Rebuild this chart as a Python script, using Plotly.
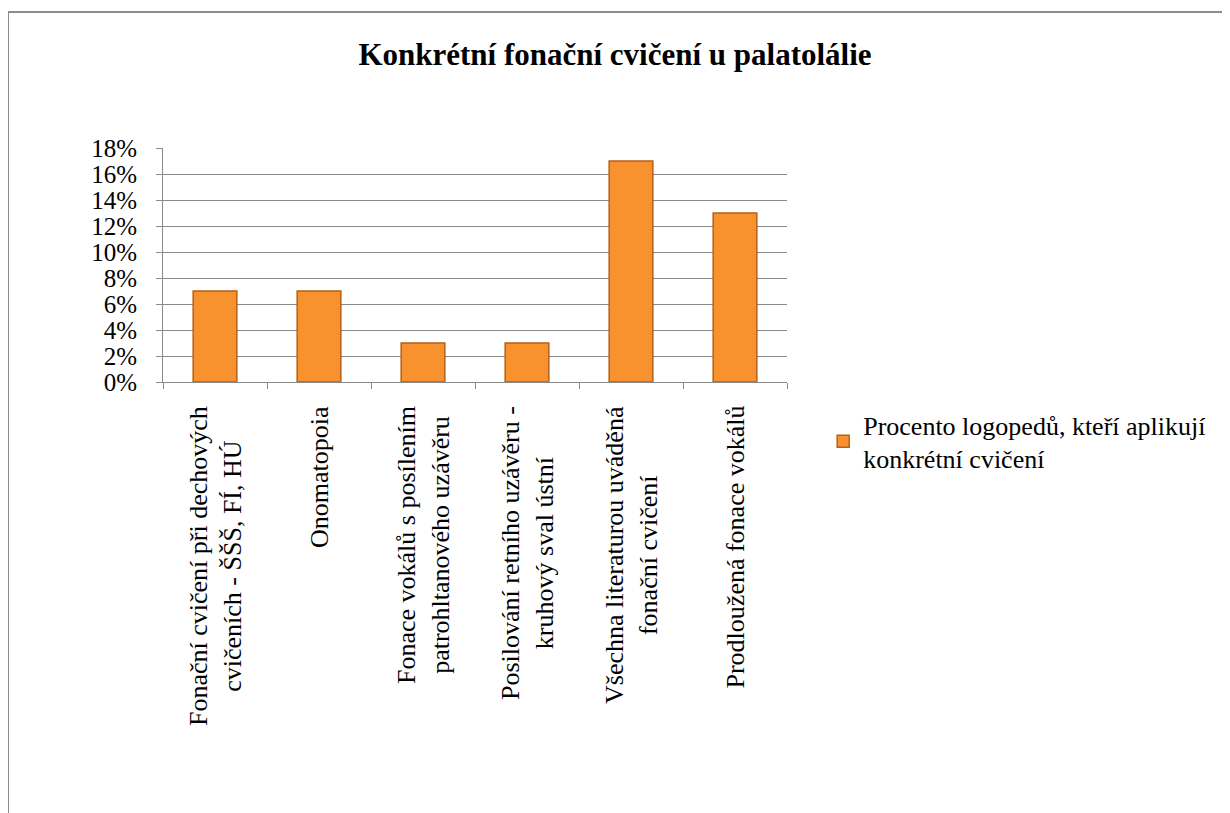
import plotly.graph_objects as go

categories = [
    "Fonační cvičení při dechových<br>cvičeních - ŠŠŠ, FÍ, HÚ",
    "Onomatopoia",
    "Fonace vokálů s posílením<br>patrohltanového uzávěru",
    "Posilování retního uzávěru -<br>kruhový sval ústní",
    "Všechna literaturou uváděná<br>fonační cvičení",
    "Prodloužená fonace vokálů",
]
values = [0.07, 0.07, 0.03, 0.03, 0.17, 0.13]
series_name = "Procento logopedů, kteří aplikují<br>konkrétní cvičení"
title_text = "Konkrétní fonační cvičení u palatolálie"

FONT = "Liberation Serif"
GRID = "#8a8a8a"

# page body has an 8px offset; layout positions are given relative to it
L, T, W, H = 155, 140, 624, 234

fig = go.Figure()
fig.add_trace(go.Bar(
    x=categories, y=values, name=series_name, width=0.42,
    marker=dict(color="#F7922E", line=dict(color="#B85E17", width=1.5)),
    showlegend=True,
))

# category labels: rotated, centred multi-line text placed at each category
for cat in categories:
    fig.add_annotation(x=cat, xref="x", y=0, yref="paper", yshift=-22,
                       text=cat, textangle=-90, align="center",
                       xanchor="center", yanchor="top", showarrow=False,
                       font=dict(family=FONT, size=26, color="black"))

fig.update_layout(
    width=1230, height=813,
    margin=dict(l=L, r=1230 - L - W, t=T, b=813 - T - H),
    paper_bgcolor="white", plot_bgcolor="white",
    font=dict(family=FONT, size=26, color="black"),
    title=dict(text="<b>" + title_text + "</b>", x=607 / 1230, xref="container", xanchor="center",
               y=1 - 46 / 813, yref="container", yanchor="middle",
               font=dict(family=FONT, size=31, color="black")),
    showlegend=True,
    legend=dict(x=1.058, xanchor="left", y=-0.081, yanchor="top",
                font=dict(family=FONT, size=26, color="black"),
                bgcolor="rgba(0,0,0,0)", itemwidth=30),
    xaxis=dict(type="category", showline=True, linecolor=GRID, linewidth=1,
               ticks="outside", tickson="boundaries", ticklen=6, tickcolor=GRID,
               showticklabels=False, showgrid=False),
    yaxis=dict(range=[0, 0.18], dtick=0.02, tickformat=".0%", showline=True,
               linecolor=GRID, linewidth=1, ticks="outside", ticklen=6, tickcolor=GRID,
               showgrid=True, gridcolor=GRID, gridwidth=1, zeroline=False,
               ticklabelstandoff=14,
               tickfont=dict(family=FONT, size=25, color="black")),
)

# outer chart frame (left and top edges visible)
fx = (0 - L) / W
fy = (T + H - 4) / H
fig.add_shape(type="line", xref="paper", yref="paper",
              x0=fx, x1=fx, y0=-3, y1=fy, line=dict(color="#8c8c8c", width=2))
fig.add_shape(type="line", xref="paper", yref="paper",
              x0=fx, x1=3, y0=fy, y1=fy, line=dict(color="#8c8c8c", width=2))

fig.write_html("out.html")
